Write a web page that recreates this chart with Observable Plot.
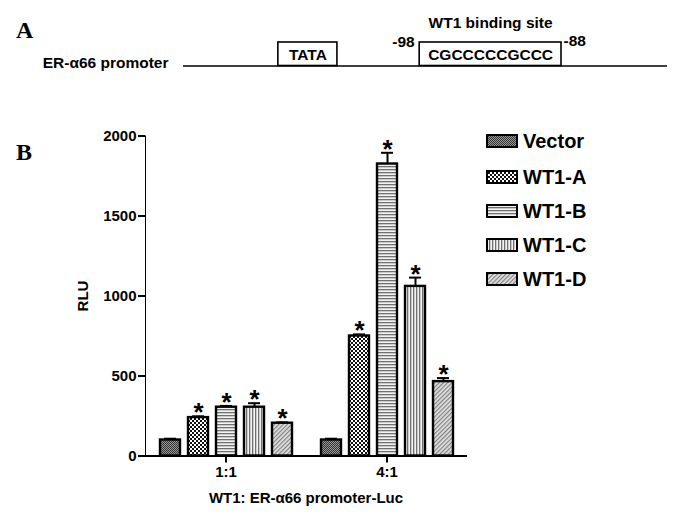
<!DOCTYPE html>
<html><head><meta charset="utf-8">
<script src="https://cdn.jsdelivr.net/npm/d3@7"></script>
<script src="https://cdn.jsdelivr.net/npm/@observablehq/plot@0.6"></script>
<style>
body{margin:0;background:#fff;}
#root{position:relative;width:688px;height:519px;overflow:hidden;font-family:"Liberation Sans",Arial,sans-serif;font-weight:bold;color:#000}
.abs{position:absolute}
.panel{font-family:"Liberation Serif","Times New Roman",serif;font-size:24px;font-weight:bold;line-height:24px}
#chartB g[aria-label="y-axis tick"], #chartB g[aria-label="fx-axis tick"]{stroke-width:2px}
.leg{position:absolute;left:486px;height:20px;display:flex;align-items:center;font-size:20px;line-height:20px}
.leg svg{margin-right:5px}
</style></head><body>
<svg width="0" height="0" style="position:absolute">
 <defs>
  <pattern id="pVector" width="2" height="2" patternUnits="userSpaceOnUse"><rect width="2" height="2" fill="#999"/><rect width="1" height="1" fill="#333"/><rect x="1" y="1" width="1" height="1" fill="#333"/></pattern>
  <pattern id="pA" width="4" height="4" patternUnits="userSpaceOnUse"><rect width="4" height="4" fill="#fff"/><rect width="2" height="2" fill="#111"/><rect x="2" y="2" width="2" height="2" fill="#111"/></pattern>
  <pattern id="pB" width="3" height="3" patternUnits="userSpaceOnUse"><rect width="3" height="3" fill="#f2f2f2"/><rect width="3" height="1.3" fill="#707070"/></pattern>
  <pattern id="pC" width="3" height="3" patternUnits="userSpaceOnUse"><rect width="3" height="3" fill="#f2f2f2"/><rect width="1.3" height="3" fill="#707070"/></pattern>
  <pattern id="pD" width="3" height="3" patternUnits="userSpaceOnUse" patternTransform="rotate(45)"><rect width="3" height="3" fill="#e2e2e2"/><rect width="1.2" height="3" fill="#808080"/></pattern>
 </defs>
</svg>
<div id="root"></div>
<script>
// ---- Panel A: promoter schematic (schematic units 0..100) ----
const promoterName = "ER-α66 promoter";
const promoterSpan = [0, 100];
const promoterElements = ["TATA", "CGCCCCCGCCC"];
const elementStarts = [19.6, 48.8];
const elementEnds = [31.8, 78.1];
const siteTitle = "WT1 binding site";
const siteCoordLabels = ["-98", "-88"];

// ---- Panel B: luciferase assay ----
const groups = ["1:1", "4:1"];
const series = ["Vector", "WT1-A", "WT1-B", "WT1-C", "WT1-D"];
const values11 = [100, 240, 305, 305, 205];
const errors11 = [8, 8, 8, 25, 5];
const values41 = [100, 750, 1825, 1060, 465];
const errors41 = [8, 10, 70, 55, 22];
const sig11 = [false, true, true, true, true];
const sig41 = [false, true, true, true, true];
const yTicks = [0, 500, 1000, 1500, 2000];
const yLabel = "RLU";
const xTitle = "WT1: ER-α66 promoter-Luc";
const patternFills = ["url(#pVector)", "url(#pA)", "url(#pB)", "url(#pC)", "url(#pD)"];

const root = document.getElementById("root");
const font = '"Liberation Sans", Arial, sans-serif';

// Panel A
const elems = promoterElements.map((name, i) => ({name, start: elementStarts[i], end: elementEnds[i]}));
const site = elems[1];
const coordRows = [
  {label: siteCoordLabels[0], pos: site.start, anchor: "end"},
  {label: siteCoordLabels[1], pos: site.end, anchor: "start"}
];
const chartA = Plot.plot({
  width: 688, height: 100, margin: 0,
  x: {domain: promoterSpan, range: [183, 667], axis: null},
  y: {domain: [0, 1], range: [65.5, 42], axis: null},
  style: {fontFamily: font, fontWeight: "bold", fontSize: "15.5px", background: "transparent", overflow: "visible"},
  marks: [
    Plot.ruleY([{y: 0, x1: promoterSpan[0], x2: promoterSpan[1]}], {y: "y", x1: "x1", x2: "x2", strokeWidth: 1.6}),
    Plot.rect(elems, {x1: "start", x2: "end", y1: 0, y2: 1, fill: "white", stroke: "black", strokeWidth: 1.6}),
    Plot.text(elems, {x: d => (d.start + d.end) / 2, y: 0.5, text: "name", fontSize: 15.5, dy: 1}),
    Plot.text(coordRows.filter(d => d.anchor === "end"), {x: "pos", y: 1, text: "label", textAnchor: "end", dx: -5, dy: 0, fontSize: 15.5}),
    Plot.text(coordRows.filter(d => d.anchor === "start"), {x: "pos", y: 1, text: "label", textAnchor: "start", dx: 2, dy: -1, fontSize: 15.5}),
    Plot.text([siteTitle], {x: (site.start + site.end) / 2, y: 1, text: d => d, fontSize: 15.5, dy: -19}),
    Plot.text([promoterName], {x: promoterSpan[0], y: 0, text: d => d, textAnchor: "end", dx: -15, dy: -3, fontSize: 15.5})
  ]
});
chartA.classList.add("abs");
chartA.style.left = "0px"; chartA.style.top = "0px";
root.appendChild(chartA);

// Panel B
const rows = [];
groups.forEach((g, gi) => {
  const vals = gi === 0 ? values11 : values41;
  const errs = gi === 0 ? errors11 : errors41;
  const sigs = gi === 0 ? sig11 : sig41;
  series.forEach((s, si) => rows.push({group: g, series: s, value: vals[si], err: errs[si], sig: sigs[si]}));
});
const errTop = d => d.value + d.err;

const chartB = Plot.plot({
  width: 688, height: 419,
  marginLeft: 145, marginRight: 221, marginTop: 35.5, marginBottom: 63.5,
  style: {fontFamily: font, fontWeight: "bold", fontSize: "15px", background: "transparent", overflow: "visible"},
  fx: {domain: groups, padding: 0, label: null, tickSize: 7, tickPadding: 3},
  x: {domain: series, paddingInner: 0.3, paddingOuter: 0.475, axis: null},
  y: {domain: [0, 2000], ticks: yTicks, tickFormat: d => String(d), tickSize: 7, tickPadding: 2, line: true, label: yLabel, labelAnchor: "center", labelOffset: 68, labelArrow: "none"},
  color: {domain: series, range: patternFills},
  marks: [
    Plot.barY(rows, {fx: "group", x: "series", y: "value", fill: "series", stroke: "black", strokeWidth: 2.4}),
    Plot.ruleX(rows, {fx: "group", x: "series", y1: "value", y2: errTop, strokeWidth: 2}),
    Plot.tickY(rows, {fx: "group", x: "series", y: errTop, strokeWidth: 2, inset: 4}),
    Plot.text(rows.filter(d => d.sig), {fx: "group", x: "series", y: errTop, text: () => "*", fontSize: 26, lineAnchor: "bottom", dy: 5}),
    Plot.ruleY([0], {strokeWidth: 2})
  ]
});
chartB.id = "chartB";
chartB.classList.add("abs");
chartB.style.left = "0px"; chartB.style.top = "100px";
root.appendChild(chartB);

// Panel letters
[["A", 18], ["B", 140]].forEach(([t, y]) => {
  const d = document.createElement("div");
  d.className = "abs panel"; d.textContent = t;
  d.style.left = "16px"; d.style.top = y + "px";
  root.appendChild(d);
});

// Legend
const legendCenters = [141, 176.5, 210.5, 244.5, 279];
series.forEach((s, i) => {
  const row = document.createElement("div");
  row.className = "leg";
  row.style.top = (legendCenters[i] - 10) + "px";
  row.innerHTML = `<svg width="32" height="14"><rect x="1" y="1" width="30" height="12" fill="${patternFills[i]}" stroke="black" stroke-width="2"/></svg><span>${s}</span>`;
  root.appendChild(row);
});

// X title
const xt = document.createElement("div");
xt.className = "abs";
xt.style.cssText = "left:145px;width:322px;top:489px;text-align:center;font-size:15px;line-height:18px";
xt.textContent = xTitle;
root.appendChild(xt);
</script>
</body></html>
